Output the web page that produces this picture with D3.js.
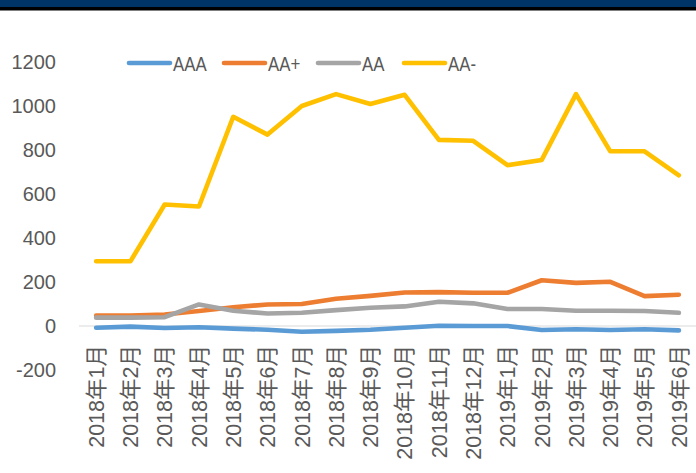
<!DOCTYPE html>
<html>
<head>
<meta charset="utf-8">
<script src="https://cdn.jsdelivr.net/npm/d3@7"></script>
<style>
  body { margin: 0; background: #fff; }
  text { font-family: "Liberation Sans", "Noto Sans CJK SC", sans-serif; fill: #595959; }
</style>
</head>
<body>
<div id="chart"></div>
<script>
// data
const months = ["2018年1月", "2018年2月", "2018年3月", "2018年4月", "2018年5月", "2018年6月",
  "2018年7月", "2018年8月", "2018年9月", "2018年10月", "2018年11月", "2018年12月",
  "2019年1月", "2019年2月", "2019年3月", "2019年4月", "2019年5月", "2019年6月"];
const seriesNames = ["AAA", "AA+", "AA", "AA-"];
const aaa = [-8, -3, -9, -6, -12, -17, -26, -22, -17, -8, 1, 0, 0, -18, -15, -18, -15, -20];
const aaPlus = [47, 48, 52, 68, 85, 98, 100, 124, 137, 152, 154, 151, 151, 208, 196, 201, 136, 142];
const aa = [38, 38, 40, 98, 69, 57, 60, 72, 83, 89, 110, 103, 77, 77, 69, 69, 68, 60];
const aaMinus = [294, 294, 552, 543, 951, 870, 1000, 1054, 1009, 1051, 846, 842, 731, 755, 1054, 794, 794, 685];
const yTicks = [-200, 0, 200, 400, 600, 800, 1000, 1200];
const colors = ["#5B9BD5", "#ED7D31", "#A5A5A5", "#FFC000"];

const W = 696, H = 473;
const svg = d3.select("#chart").append("svg")
    .attr("width", W)
    .attr("height", H);

// header band
svg.append("rect").attr("x", 0).attr("y", 0).attr("width", W).attr("height", 7).attr("fill", "#003366");
svg.append("rect").attr("x", 0).attr("y", 7).attr("width", W).attr("height", 3.5).attr("fill", "#000");

const x = d3.scaleBand().domain(months).range([79, 696]);
const y = d3.scaleLinear().domain([-200, 1200]).range([370, 62]);

// zero line
svg.append("line")
    .attr("x1", 79).attr("x2", 696)
    .attr("y1", y(0)).attr("y2", y(0))
    .attr("stroke", "#D9D9D9").attr("stroke-width", 1.2);

// y tick labels
svg.append("g")
    .selectAll("text")
    .data(yTicks)
    .enter().append("text")
    .attr("x", 56)
    .attr("y", d => y(d))
    .attr("dy", "0.36em")
    .attr("text-anchor", "end")
    .style("font-size", "20px")
    .text(d => d);

// x tick labels, rotated
svg.append("g")
    .selectAll("text")
    .data(months)
    .enter().append("text")
    .attr("transform", d => `translate(${x(d) + x.bandwidth() / 2},345) rotate(-90)`)
    .attr("text-anchor", "end")
    .attr("dy", "0.36em")
    .style("font-size", "21.5px")
    .text(d => d);

// lines
const allSeries = [aaa, aaPlus, aa, aaMinus];
const line = d3.line()
    .x((d, i) => x(months[i]) + x.bandwidth() / 2)
    .y(d => y(d));

svg.append("g")
    .selectAll("path")
    .data(allSeries)
    .enter().append("path")
    .attr("d", line)
    .attr("fill", "none")
    .attr("stroke", (d, i) => colors[i])
    .attr("stroke-width", 4.6)
    .attr("stroke-linejoin", "round")
    .attr("stroke-linecap", "round");

// legend
const legendX = [129, 224, 318, 404];
const legend = svg.append("g")
    .selectAll("g")
    .data(seriesNames)
    .enter().append("g")
    .attr("transform", (d, i) => `translate(${legendX[i]},63)`);

legend.append("line")
    .attr("x1", 0).attr("x2", 41)
    .attr("stroke", (d, i) => colors[i])
    .attr("stroke-width", 4.6)
    .attr("stroke-linecap", "round");

legend.append("text")
    .attr("transform", "translate(44,0) scale(0.8,1)")
    .attr("dy", "0.36em")
    .style("font-size", "21px")
    .text(d => d);
</script>
</body>
</html>
